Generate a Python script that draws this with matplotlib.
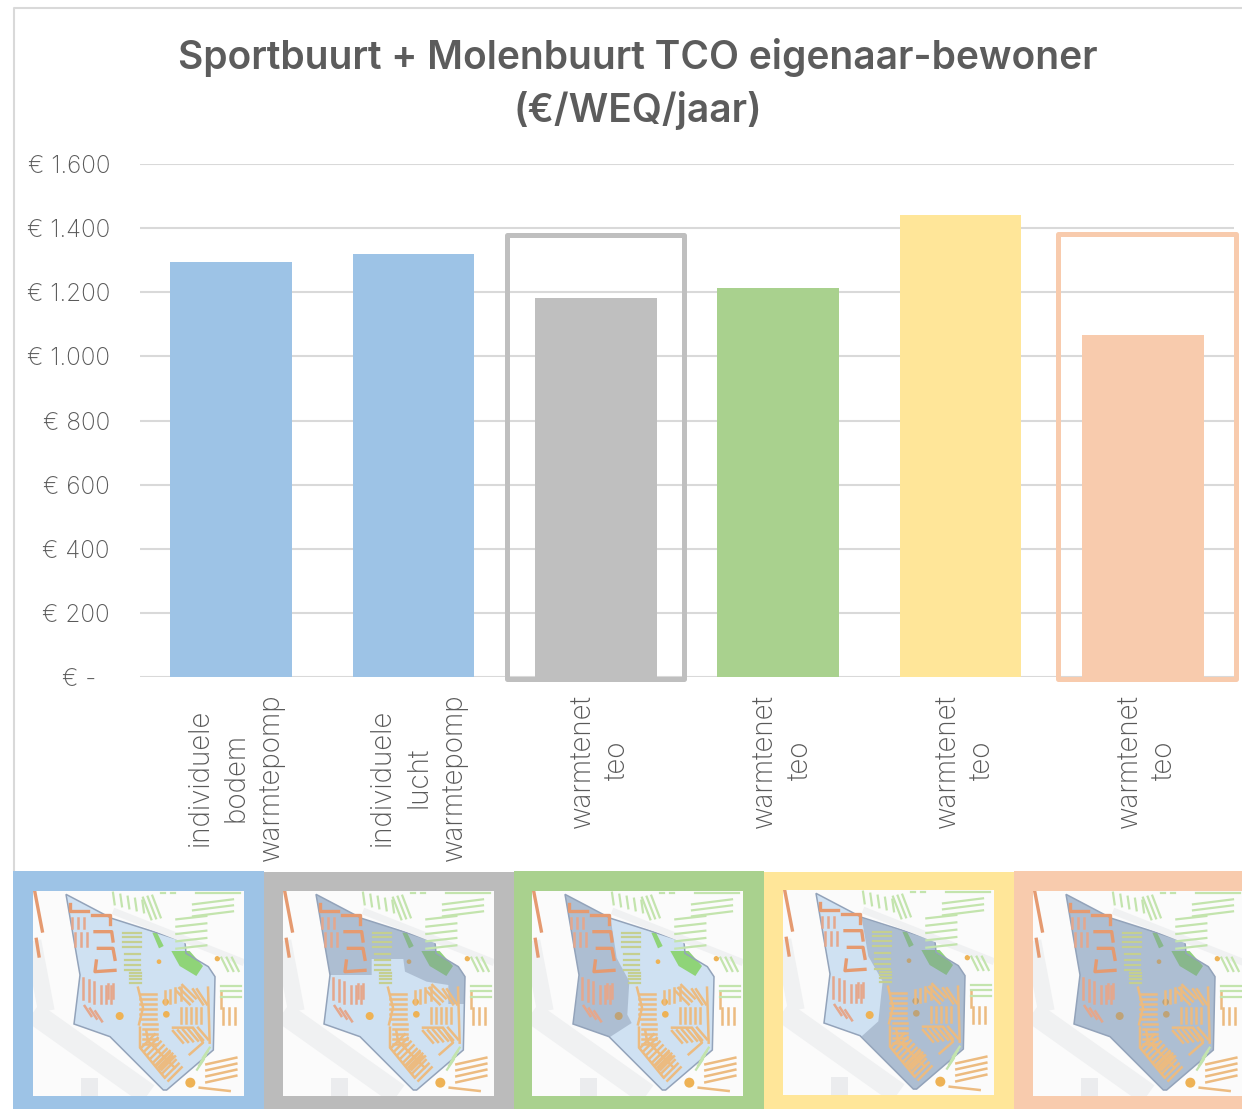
import matplotlib
matplotlib.use('Agg')
import matplotlib.pyplot as plt
from matplotlib.patches import Rectangle, Polygon, Circle

plt.rcParams['font.family'] = ['Inter', 'DejaVu Sans']

W, H = 1242, 1109

# chart data
title = 'Sportbuurt + Molenbuurt TCO eigenaar-bewoner\n(€/WEQ/jaar)'
categories = ['individuele\nbodem\nwarmtepomp', 'individuele\nlucht\nwarmtepomp',
              'warmtenet\nteo', 'warmtenet\nteo', 'warmtenet\nteo', 'warmtenet\nteo']
values = [1294, 1319, 1182, 1213, 1441, 1067]
bar_colors = ['#9dc3e6', '#9dc3e6', '#bfbfbf', '#a9d18e', '#ffe699', '#f8cbad']
yticks = [0, 200, 400, 600, 800, 1000, 1200, 1400, 1600]
ytick_labels = ['€ -', '€ 200', '€ 400', '€ 600', '€ 800', '€ 1.000', '€ 1.200', '€ 1.400', '€ 1.600']

# highlight boxes round two of the bars (pixels: x0, y0, x1, y1)
boxes = [(507, 235, 684, 679, '#bfbfbf'), (1058, 234, 1236, 679, '#f8cbad')]

# map panels under the chart: frame x0, frame x1, frame y0, inner x0, inner y0, colour
panels = [(13, 264, 871, 33, 891, '#9dc3e6'),
          (264, 514, 872, 283, 891, '#bbbbbb'),
          (514, 764, 871, 532, 891, '#a9d18e'),
          (764, 1014, 872, 783, 890, '#ffe699'),
          (1014, 1242, 871, 1033, 891, '#f8cbad')]

# map shapes, all in 3x pixels of the inner map (633 x 615)
outline = [(99, 10), (236, 82), (456, 152), (459, 187), (526, 227), (546, 257), (541, 477),
           (401, 597), (391, 597), (231, 437), (123, 399), (141, 252)]
shade_north = [(99, 10), (236, 82), (456, 152), (459, 187), (526, 227), (546, 257), (544, 339),
               (496, 339), (496, 282), (431, 272), (366, 242), (361, 204), (266, 204), (266, 252),
               (141, 252)]
shade_west = [(99, 11), (236, 83), (254, 201), (292, 271), (286, 371), (299, 396), (234, 438),
              (124, 399), (142, 256)]
shade_east = [(236, 84), (456, 154), (459, 189), (526, 229), (546, 259), (541, 474), (401, 599),
              (391, 599), (236, 439), (286, 394), (299, 274), (256, 199)]
shades = [None, shade_north, shade_west, shade_east, outline]

# rows of houses: x0, y0, x1, y1, step x, step y, count
red_rows = [(118, 82, 118, 112, 18, 0, 3), (125, 125, 125, 165, 18, 0, 3),
            (150, 262, 150, 325, 17, 5, 3), (205, 285, 205, 335, 15, 0, 3),
            (155, 345, 175, 375, 16, 8, 3), (225, 280, 225, 320, 14, 0, 2)]
red_lines = [[(112, 40), (112, 60), (165, 60)], [(176, 72), (232, 72), (232, 100)],
             [(186, 122), (236, 122), (240, 150)], [(196, 172), (240, 172), (246, 205)],
             [(190, 210), (186, 242), (246, 238)], [(5, 0), (28, 120)], [(10, 145), (18, 195)]]
orange_rows = [(322, 310, 368, 310, 0, 15, 6), (330, 400, 372, 400, 0, 15, 5),
               (325, 470, 365, 430, 9, 11, 10), (370, 520, 410, 480, 8, 8, 3),
               (395, 300, 395, 340, 16, -4, 4), (430, 300, 470, 340, 9, -9, 3),
               (445, 350, 445, 395, 15, 0, 5), (420, 420, 450, 455, 15, -2, 6),
               (525, 290, 530, 455, 0, 0, 1), (480, 295, 510, 340, 12, 0, 2),
               (565, 300, 565, 350, 0, 0, 1), (570, 350, 570, 400, 18, 0, 3),
               (520, 520, 610, 500, 0, 18, 4), (500, 590, 590, 600, 0, 0, 1)]
orange_lines = [[(321, 410), (321, 470), (395, 560)], [(340, 420), (345, 450), (425, 530)],
                [(315, 290), (330, 350), (318, 400)], [(420, 410), (480, 410), (510, 455), (470, 490)]]
olive_rows = [(270, 125, 325, 125, 0, 14, 4), (275, 190, 320, 190, 0, 16, 4), (290, 245, 325, 245, 0, 10, 4)]
green_rows = [(240, 5, 245, 40, 22, 6, 5), (330, 20, 355, 85, 14, -3, 3),
              (480, 40, 600, 25, 0, 18, 3), (430, 85, 520, 75, 0, 22, 5), (565, 200, 585, 240, 16, 0, 3),
              (565, 285, 625, 285, 0, 16, 3), (490, 5, 620, 5, 0, 0, 1), (385, 5, 395, 5, 30, 0, 2),
              (510, 500, 530, 470, -6, 12, 4)]
green_blobs = [[(415, 180), (470, 180), (510, 225), (490, 255), (440, 225)],
               [(358, 125), (372, 125), (392, 165), (378, 172)]]
pale_roads = [(0, 365, 345, 610, 16), (0, 150, 40, 360, 12), (240, 60, 633, 215, 5)]
dots = [(260, 375, 12), (398, 333, 10), (400, 370, 10), (472, 575, 15), (553, 203, 8), (378, 212, 7)]
red_colors = '#e5a78c'
orange_color = '#ecbb80'
olive_color = '#c5cf90'


def draw_map(ax, shade):
    ax.set_xlim(0, 633)
    ax.set_ylim(615, 0)
    ax.set_axis_off()
    ax.add_patch(Rectangle((0, 0), 633, 615, fc='#fbfbfb', ec='none'))
    for x0, y0, x1, y1, lw in pale_roads:
        ax.plot([x0, x1], [y0, y1], color='#f0f1f2', lw=lw, solid_capstyle='butt')
    ax.add_patch(Rectangle((145, 560), 50, 55, fc='#ebecee', ec='none'))
    ax.add_patch(Polygon(outline, fc='#cfe1f2', ec='none'))
    for rows, color, lw in [(red_rows, red_colors, 1.8), (orange_rows, orange_color, 1.8),
                            (olive_rows, olive_color, 1.6), (green_rows, '#c3e4ad', 1.6)]:
        for x0, y0, x1, y1, dx, dy, n in rows:
            for i in range(n):
                ax.plot([x0 + i * dx, x1 + i * dx], [y0 + i * dy, y1 + i * dy], color=color, lw=lw)
    for line in red_lines:
        ax.plot([p[0] for p in line], [p[1] for p in line], color='#e59a70', lw=2.4)
    for line in orange_lines:
        ax.plot([p[0] for p in line], [p[1] for p in line], color=orange_color, lw=1.8)
    for blob in green_blobs:
        ax.add_patch(Polygon(blob, fc='#8fd478', ec='none'))
    for x, y, r in dots:
        ax.add_patch(Circle((x, y), r, fc='#eeb255', ec='none'))
    if shade is not None:
        ax.add_patch(Polygon(shade, fc='#7f8fa8', ec='none', alpha=0.42))
    ax.add_patch(Polygon(outline, fc='none', ec='#93a3ba', lw=1.1))


def axes_px(x0, y0, x1, y1):
    return [x0 / W, 1 - y1 / H, (x1 - x0) / W, (y1 - y0) / H]


fig = plt.figure(figsize=(W / 100, H / 100), dpi=100)

# overlay in pixels for the border, boxes and colour frames
bg = fig.add_axes([0, 0, 1, 1], zorder=0)
bg.set_xlim(0, W)
bg.set_ylim(H, 0)
bg.set_axis_off()
bg.plot([14, 14, W], [870, 8, 8], color='#d9d9d9', lw=1.5)
for x0, x1, y0, ix, iy, color in panels:
    bg.add_patch(Rectangle((x0, y0), x1 - x0, H - y0, fc=color, ec='none'))

# bar chart
ax = fig.add_axes(axes_px(140, 164, 1234, 677), zorder=1)
ax.patch.set_alpha(0)
ax.bar(range(len(values)), values, width=0.667, color=bar_colors, zorder=3)
ax.set_xlim(-0.5, 5.5)
ax.set_ylim(0, 1600)
ax.set_yticks(yticks)
ax.set_yticklabels(ytick_labels, fontsize=17.5, color='#595959', fontweight='light')
# labels sit a little right of the bar centres
ax.set_xticks([i + 0.027 for i in range(len(categories))])
ax.set_xticklabels(categories, rotation=90, fontsize=20, color='#595959', fontweight='light',
                   ha='center', va='top', multialignment='center', linespacing=1.41)
ax.tick_params(axis='both', length=0)
ax.tick_params(axis='y', pad=21.6)
ax.tick_params(axis='x', pad=12)
ax.yaxis.get_major_ticks()[0].set_pad(31.7)
ax.grid(axis='y', color='#d9d9d9', lw=1.5, zorder=0)
ax.set_axisbelow(True)
for spine in ax.spines.values():
    spine.set_visible(False)

fig.text(638 / W, 1 - 84 / H, title, ha='center', va='center', fontsize=28, fontweight='semibold',
         color='#5c5c5c', linespacing=1.44)

# boxes go over the bars
top = fig.add_axes([0, 0, 1, 1], zorder=2)
top.set_xlim(0, W)
top.set_ylim(H, 0)
top.set_axis_off()
for x0, y0, x1, y1, color in boxes:
    top.add_patch(Rectangle((x0, y0), x1 - x0, y1 - y0, fc='none', ec=color, lw=3.6, joinstyle='round'))

# maps
for (x0, x1, y0, ix, iy, color), shade in zip(panels, shades):
    m = fig.add_axes(axes_px(ix, iy, ix + 211, iy + 205), zorder=3)
    draw_map(m, shade)

fig.savefig('out.png', dpi=100, facecolor='white')
